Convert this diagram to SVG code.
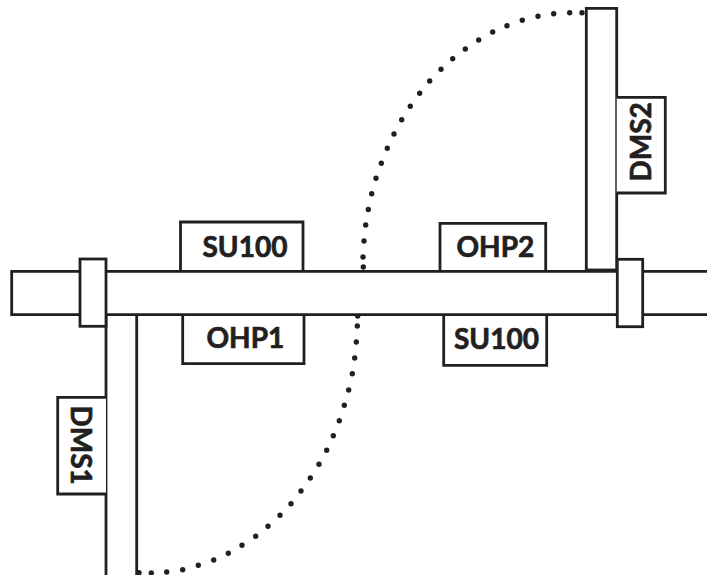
<svg xmlns="http://www.w3.org/2000/svg" width="707" height="575" viewBox="0 0 707 575">
<style>
.s{fill:#fff;stroke:#231f20;stroke-width:2.8}
.n{fill:none;stroke:#231f20;stroke-width:2.8}
.t{font-family:"Lato","Open Sans","Liberation Sans",sans-serif;font-weight:700;font-size:28px;fill:#231f20;stroke:#231f20;stroke-width:.7}
.d{fill:none;stroke:#231f20;stroke-width:5.4;stroke-linecap:round}
</style>
<rect width="707" height="575" fill="#fff"/>
<g id="connectors">
<path class="d" d="M582 12.7h0M569.7 12.7h0M553.7 13.7h0M538 16.3h0M522.3 20.3h0M507 25.7h0M492.7 32h0M478.7 40h0M465.3 49h0M452.7 58.7h0M441 69.3h0M429.7 81h0M419.7 93.3h0M410.3 106.3h0M401.7 119.7h0M394 134h0M387.3 148.3h0M381.3 163.3h0M376 178.3h0M371.7 193.7h0M368.3 209.5h0M365.7 225h0M364 241h0M363 257h0M363.3 267h0M357.7 316h0M357.3 326h0M356.3 342h0M354.7 358h0M352.3 373.7h0M348.7 390h0M344.3 405.3h0M339.3 420.7h0M333.3 435.7h0M326.7 450.3h0M319 464.3h0M310.3 478h0M301 491h0M291 503.7h0M280 515.3h0M268 526.3h0M255.7 536.3h0M242 545.3h0M228.3 553.3h0M213.7 560h0M198.3 565.3h0M182.7 569.7h0M166.7 572h0M151.3 573h0M139 572.7h0"/>
</g>
<g id="su100-top"><path class="s" d="M180.5 270V222H303V270"/><text class="t" x="202.500" y="256.7">SU100</text></g>
<g id="ohp1"><path class="s" d="M182.7 315V363.7H304V315"/><text class="t" x="206.500" y="347.7">OHP1</text></g>
<g id="ohp2"><path class="s" d="M440 270V223.3H545.7V270"/><text class="t" x="456.500" y="256.7">OHP2</text></g>
<g id="su100-bottom"><path class="s" d="M443.7 315V365.3H546.7V315"/><text class="t" x="454" y="349.3">SU100</text></g>
<g id="dms1"><path class="n" d="M106 315V575M136.7 315V575M106 314.500H136.7"/><path class="s" d="M106 397.3H57.7V494H106"/><text class="t" transform="translate(70.7 405.500) rotate(90)">DMS1</text></g>
<g id="dms2"><path class="s" d="M586.3 270V8.3H616.7V270"/><path class="n" d="M586.3 270H616.7"/><path class="s" d="M616.7 97.3H665.3V193H616.7"/><text class="t" transform="translate(650.7 181.500) rotate(-90)">DMS2</text></g>
<g id="main-pipe"><path class="s" d="M707 271.3H11.7V314.7H707"/></g>
<g id="collar-left"><rect class="s" x="80" y="259" width="26" height="67.3"/></g>
<g id="collar-right"><rect class="s" x="617.3" y="259.3" width="25.4" height="67.4"/></g>
</svg>
